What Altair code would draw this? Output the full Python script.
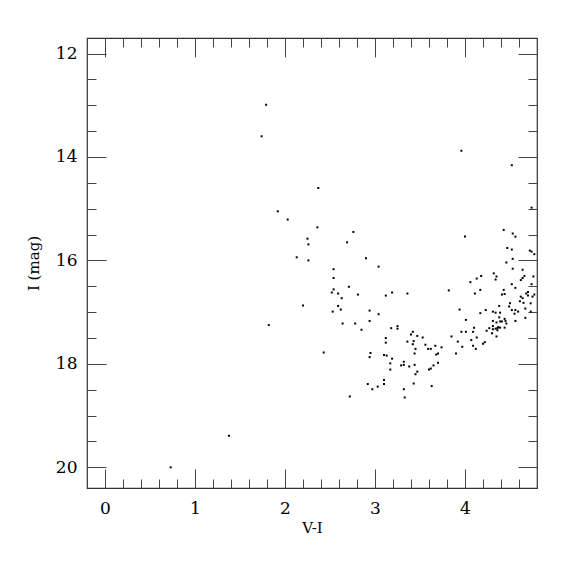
import altair as alt
import pandas as pd

vi = [0.73, 1.378, 1.79, 1.74, 3.96, 4.52, 2.37, 1.92, 2.03, 2.36, 2.76, 2.25, 2.26, 2.69, 2.13, 2.26, 2.90, 3.04, 2.54, 2.54,
      2.71, 2.54, 2.52, 2.59, 2.63, 2.81, 3.12, 3.19, 3.36, 3.82, 2.20, 2.59, 2.62, 2.53, 2.94, 3.04, 1.82, 2.64, 2.78, 2.85,
      2.94, 3.18, 3.25, 3.25, 3.42, 3.40, 3.47, 3.12, 3.12, 3.36, 3.43, 3.42, 3.53, 3.56, 3.45, 3.59, 3.62, 3.67, 3.74, 2.43,
      2.95, 2.94, 3.10, 3.13, 3.19, 3.44, 3.68, 3.17, 3.32, 3.29, 3.32, 3.38, 3.44, 3.70, 3.65, 3.62, 3.60, 3.47, 3.45, 3.17,
      3.10, 3.10, 2.92, 2.97, 3.03, 3.32, 3.33, 3.43, 3.63, 2.72, 4.74, 4.43, 4.53, 4.56, 4.00, 4.47, 4.52, 4.72, 4.74, 4.77,
      4.53, 4.46, 4.53, 4.64, 4.32, 4.35, 4.34, 4.18, 4.13, 4.06, 4.66, 4.64, 4.62, 4.76, 4.52, 4.74, 4.56, 4.17, 4.43, 4.41,
      4.44, 4.11, 4.68, 4.70, 4.70, 4.77, 4.75, 4.62, 4.64, 4.61, 4.65, 4.73, 4.50, 4.49, 4.38, 4.56, 4.52, 4.59, 4.67, 4.73,
      4.55, 4.67, 4.56, 3.94, 4.23, 4.17, 4.31, 4.34, 4.39, 4.38, 4.39, 4.31, 4.35, 4.44, 4.45, 4.46, 4.41, 4.01, 4.10, 4.27,
      4.31, 4.31, 4.34, 4.36, 4.36, 4.37, 4.39, 4.44, 4.24, 4.30, 4.35, 3.96, 4.01, 4.09, 4.13, 4.07, 3.85, 3.92, 4.09, 4.12,
      3.97, 4.20, 4.22, 3.90, 3.70]
imag = [20.00, 19.39, 12.99, 13.60, 13.88, 14.16, 14.60, 15.05, 15.21, 15.36, 15.45, 15.58, 15.69, 15.65, 15.94, 16.00, 15.96, 16.12, 16.17, 16.34,
        16.51, 16.56, 16.62, 16.64, 16.73, 16.66, 16.68, 16.62, 16.64, 16.58, 16.87, 16.88, 16.95, 16.99, 16.97, 17.04, 17.25, 17.22, 17.22, 17.34,
        17.17, 17.31, 17.27, 17.32, 17.38, 17.43, 17.46, 17.50, 17.59, 17.57, 17.56, 17.62, 17.49, 17.63, 17.71, 17.71, 17.71, 17.65, 17.68, 17.78,
        17.79, 17.87, 17.83, 17.84, 17.90, 17.80, 17.82, 17.99, 17.96, 18.03, 18.02, 18.05, 18.02, 17.98, 18.03, 18.09, 18.11, 18.15, 18.20, 18.11,
        18.31, 18.39, 18.39, 18.49, 18.44, 18.49, 18.65, 18.38, 18.43, 18.63, 14.98, 15.41, 15.48, 15.54, 15.54, 15.76, 15.79, 15.81, 15.83, 15.88,
        15.97, 16.04, 16.16, 16.18, 16.25, 16.31, 16.37, 16.30, 16.35, 16.42, 16.30, 16.34, 16.38, 16.31, 16.46, 16.46, 16.53, 16.57, 16.57, 16.66,
        16.65, 16.64, 16.64, 16.61, 16.68, 16.66, 16.70, 16.70, 16.73, 16.79, 16.82, 16.83, 16.83, 16.89, 16.88, 16.96, 16.96, 16.99, 16.93, 16.99,
        17.03, 17.11, 17.17, 16.95, 16.96, 17.02, 16.99, 17.01, 17.01, 17.10, 17.18, 17.17, 17.20, 17.13, 17.17, 17.22, 17.18, 17.15, 17.30, 17.31,
        17.27, 17.33, 17.32, 17.31, 17.35, 17.29, 17.30, 17.30, 17.36, 17.41, 17.47, 17.38, 17.38, 17.38, 17.49, 17.54, 17.47, 17.57, 17.65, 17.71,
        17.67, 17.61, 17.58, 17.80, 17.80]

x_major = [0, 1, 2, 3, 4]
x_minor = [round(-0.2 + 0.2 * i, 1) for i in range(26)]
y_major = [12, 14, 16, 18, 20]
y_minor = [12 + 0.5 * i for i in range(17)]

df = pd.DataFrame({"vi": vi, "imag": imag})

FONT = "DejaVu Serif"
TC = "#444444"

xs = alt.Scale(domain=[-0.2, 4.8], nice=False, zero=False)
ys = alt.Scale(domain=[11.7, 20.4], nice=False, zero=False, reverse=True)


def ax(orient, values, size, labels, title=None):
    kw = dict(orient=orient, values=values, tickSize=size, offset=-size, domain=False,
              grid=False, ticks=True, tickColor=TC, tickWidth=1, labels=labels)
    if labels:
        kw.update(labelFont=FONT, labelFontSize=17, labelColor="black",
                  labelPadding=12 if orient == "bottom" else 10, format="d")
    if title:
        kw.update(title=title, titleFont=FONT, titleFontSize=15, titleFontWeight="normal",
                  titleColor="black", titlePadding=14 if orient == "left" else 4)
    else:
        kw.update(title=None)
    return alt.Axis(**kw)


base = alt.Chart(df)

pts = base.mark_square(size=4, color="black", opacity=1).encode(
    x=alt.X("vi:Q", scale=xs, axis=ax("bottom", x_major, 19, True, "V-I")),
    y=alt.Y("imag:Q", scale=ys, axis=ax("left", y_major, 19, True, "I (mag)")),
)
l2 = base.mark_square(size=4, opacity=0).encode(
    x=alt.X("vi:Q", scale=xs, axis=ax("bottom", x_minor, 9, False)),
    y=alt.Y("imag:Q", scale=ys, axis=ax("left", y_minor, 9, False)),
)
l3 = base.mark_square(size=4, opacity=0).encode(
    x=alt.X("vi:Q", scale=xs, axis=ax("top", x_major, 19, False)),
    y=alt.Y("imag:Q", scale=ys, axis=ax("right", y_major, 19, False)),
)
l4 = base.mark_square(size=4, opacity=0).encode(
    x=alt.X("vi:Q", scale=xs, axis=ax("top", x_minor, 9, False)),
    y=alt.Y("imag:Q", scale=ys, axis=ax("right", y_minor, 9, False)),
)

chart = alt.layer(pts, l2, l3, l4).resolve_axis(x="independent", y="independent").properties(
    width=450, height=450,
    padding={"left": 18, "top": 29, "right": 5, "bottom": 5},
).configure_view(stroke="#333333", strokeWidth=1.2)

chart.save("out.html", embed_options={"renderer": "svg", "actions": False})
